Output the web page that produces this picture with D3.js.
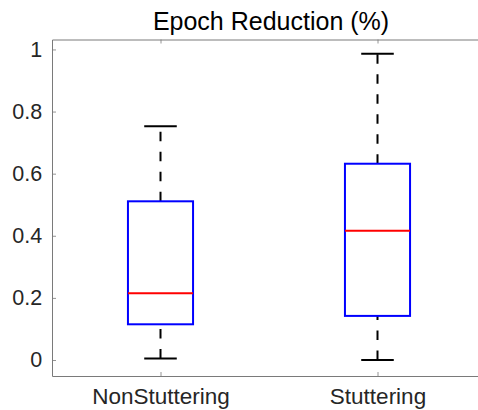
<!DOCTYPE html>
<html>
<head>
<meta charset="utf-8">
<script src="https://cdn.jsdelivr.net/npm/d3@7"></script>
<style>
  html, body { margin: 0; padding: 0; background: #fff; overflow: hidden; }
  svg { display: block; overflow: hidden; }
  text { font-family: "Liberation Sans", Arial, sans-serif; }
</style>
</head>
<body>
<svg id="chart" width="478" height="410"></svg>
<script>
// ---- Data ----
const categories   = ["NonStuttering", "Stuttering"];
const whiskerLow   = [0.005, 0.000];
const q1Values     = [0.115, 0.142];
const medianValues = [0.215, 0.416];
const q3Values     = [0.511, 0.632];
const whiskerHigh  = [0.753, 0.986];
const yTickValues  = [0, 0.2, 0.4, 0.6, 0.8, 1];
const yTickLabels  = ["0", "0.2", "0.4", "0.6", "0.8", "1"];
const titleText    = "Epoch Reduction (%)";

(function () {
const svg = d3.select("#chart");
const mLeft = 52, mRight = 486, mTop = 39.5, mBottom = 376;

const x = d3.scaleLinear().domain([0.5, 2.5]).range([mLeft, mRight]);
const y = d3.scaleLinear().domain([-0.0515, 1.032]).range([mBottom, mTop]);

const axisColor = "#7a7a7a";
const textColor = "#262626";

const g = svg.append("g");

const data = categories.map((c, i) => ({
  c, pos: i + 1,
  lo: whiskerLow[i], q1: q1Values[i], med: medianValues[i], q3: q3Values[i], hi: whiskerHigh[i]
}));

const boxHalf = 0.15, capHalf = 0.075;

const bg = g.append("g");
data.forEach(d => {
  const cx = x(d.pos);
  bg.append("line")
    .attr("x1", cx).attr("x2", cx)
    .attr("y1", y(d.q3)).attr("y2", y(d.hi))
    .attr("stroke", "#000").attr("stroke-width", 2)
    .attr("stroke-dasharray", "9.5,10.5");
  bg.append("line")
    .attr("x1", cx).attr("x2", cx)
    .attr("y1", y(d.lo)).attr("y2", y(d.q1))
    .attr("stroke", "#000").attr("stroke-width", 2)
    .attr("stroke-dasharray", "9.5,10.5");
  [d.lo, d.hi].forEach(v => {
    bg.append("line")
      .attr("x1", x(d.pos - capHalf)).attr("x2", x(d.pos + capHalf))
      .attr("y1", y(v)).attr("y2", y(v))
      .attr("stroke", "#000").attr("stroke-width", 2);
  });
  bg.append("rect")
    .attr("x", x(d.pos - boxHalf)).attr("y", y(d.q3))
    .attr("width", x(d.pos + boxHalf) - x(d.pos - boxHalf))
    .attr("height", y(d.q1) - y(d.q3))
    .attr("fill", "none").attr("stroke", "#0000ff").attr("stroke-width", 2);
  bg.append("line")
    .attr("x1", x(d.pos - boxHalf)).attr("x2", x(d.pos + boxHalf))
    .attr("y1", y(d.med)).attr("y2", y(d.med))
    .attr("stroke", "#ff0000").attr("stroke-width", 2);
});

const yAxis = d3.axisLeft(y).tickValues(yTickValues)
  .tickFormat((d, i) => yTickLabels[i]).tickSizeInner(-4).tickSizeOuter(0).tickPadding(12);
const yg = g.append("g").attr("transform", `translate(${mLeft},0)`).call(yAxis);

const xAxis = d3.axisBottom(x).tickValues(data.map(d => d.pos))
  .tickFormat((d, i) => categories[i]).tickSizeInner(-4).tickSizeOuter(0).tickPadding(12);
const xg = g.append("g").attr("transform", `translate(0,${mBottom})`).call(xAxis);

const xTop = d3.axisTop(x).tickValues(data.map(d => d.pos))
  .tickFormat("").tickSizeInner(-4).tickSizeOuter(0);
const xtg = g.append("g").attr("transform", `translate(0,${mTop})`).call(xTop);

[yg, xg, xtg].forEach(a => {
  a.select(".domain").attr("stroke", axisColor).attr("stroke-width", 1);
  a.selectAll(".tick line").attr("stroke", axisColor).attr("stroke-width", 0.8);
  a.selectAll(".tick text").attr("fill", textColor)
    .style("font-family", "'Liberation Sans', Arial, sans-serif");
});
yg.selectAll(".tick text").style("font-size", "21.5px").attr("dx", "0.1em");
xg.selectAll(".tick text").style("font-size", "22.5px").attr("dy", "0.72em");

svg.append("text")
  .attr("x", 271).attr("y", 30)
  .attr("text-anchor", "middle")
  .attr("fill", "#000")
  .style("font-size", "25px")
  .text(titleText);
})();
</script>
</body>
</html>
